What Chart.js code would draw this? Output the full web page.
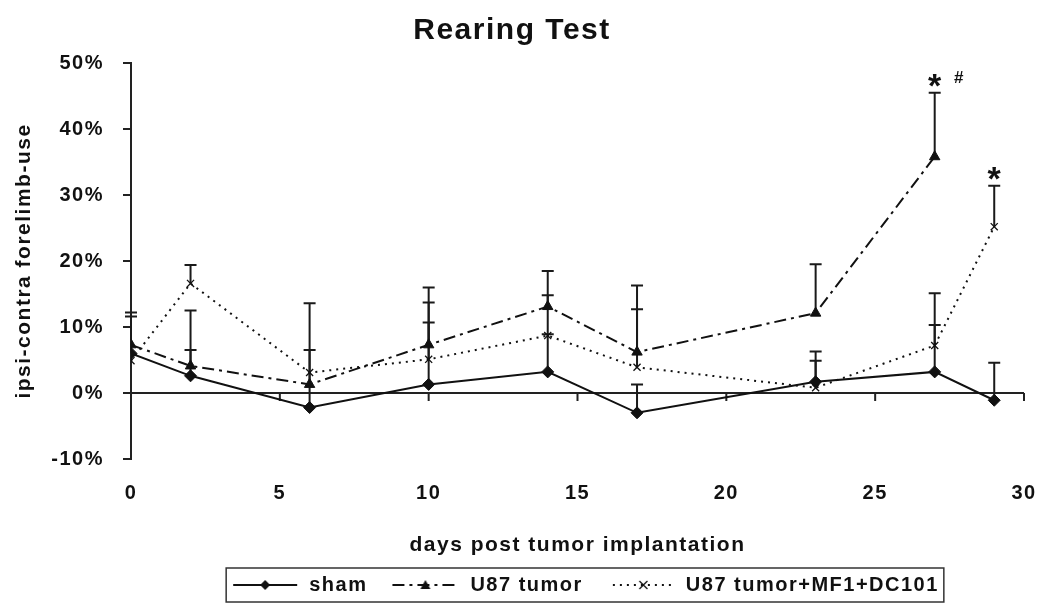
<!DOCTYPE html>
<html lang="en">
<head>
    <meta charset="UTF-8">
    <title>Rearing Test</title>
    <script src="https://cdn.jsdelivr.net/npm/chart.js"></script>
    <style>
        body { margin: 0; background: #fff; }
        #wrap { width: 1039px; height: 608px; position: relative; }
    </style>
</head>
<body>
    <div id="wrap"><canvas id="chart"></canvas></div>
    <script>
        // days after implantation
        const days = [0, 2, 6, 10, 14, 17, 23, 27, 29];

        // mean values (%) and upper error (%)
        const sham = [6.0, 2.6, -2.2, 1.3, 3.2, -3.0, 1.7, 3.2, -1.1];
        const shamErr = [5.6, 3.9, 8.7, 12.4, 5.7, 4.3, 3.2, 11.9, 5.7];

        const u87 = [7.3, 4.1, 1.3, 7.3, 13.1, 6.2, 12.1, 35.8, null];
        const u87Err = [4.9, 8.4, 12.3, 8.7, 5.4, 10.1, 7.4, 9.7, null];

        const combo = [4.9, 16.6, 3.1, 5.1, 8.7, 3.9, 0.8, 7.2, 25.2];
        const comboErr = [null, 2.8, null, 5.6, 6.1, 8.8, 5.5, 3.1, 6.2];

        const seriesNames = ['sham', 'U87 tumor', 'U87 tumor+MF1+DC101'];
        const yRange = [-10, 50];
        const xRange = [0, 30];

        // significance marks: series index, day, text
        const marks = [
            { series: 1, day: 27, star: '*', hash: '#' },
            { series: 2, day: 29, star: '*', hash: '' }
        ];

        const FONT = "'Liberation Sans', Arial, sans-serif";
        const INK = '#111';
        const SPACING = '1.5px';

        const dashes = [[], [12, 5, 3, 5], [2, 5]];
        const styles = ['rectRot', 'triangle', 'crossRot'];

        function drawMarker(g, kind, cx, cy) {
            g.setLineDash([]);
            g.fillStyle = INK;
            g.strokeStyle = INK;
            g.beginPath();
            if (kind === 'rectRot') {
                g.moveTo(cx, cy - 5); g.lineTo(cx + 5, cy); g.lineTo(cx, cy + 5); g.lineTo(cx - 5, cy);
                g.closePath(); g.fill();
            } else if (kind === 'triangle') {
                g.moveTo(cx, cy - 5); g.lineTo(cx + 5, cy + 4); g.lineTo(cx - 5, cy + 4);
                g.closePath(); g.fill();
            } else {
                g.lineWidth = 1.3;
                g.moveTo(cx - 4, cy - 4); g.lineTo(cx + 4, cy + 4);
                g.moveTo(cx + 4, cy - 4); g.lineTo(cx - 4, cy + 4);
                g.stroke();
            }
        }

        // legend sample: line style + marker, right-aligned in a fixed box
        const SAMPLE_W = 83;
        const sampleLen = [64, 66, 61];
        function sample(i) {
            const c = document.createElement('canvas');
            c.width = SAMPLE_W; c.height = 14;
            const g = c.getContext('2d');
            const x1 = SAMPLE_W - 2, x0 = x1 - sampleLen[i];
            g.strokeStyle = INK;
            g.lineWidth = 2;
            g.setLineDash(dashes[i]);
            g.beginPath();
            g.moveTo(x0, 7); g.lineTo(x1, 7);
            g.stroke();
            drawMarker(g, styles[i], (x0 + x1) / 2, 7);
            return c;
        }

        const errors = [shamErr, u87Err, comboErr];
        const values = [sham, u87, combo];

        function toPoints(arr) {
            return days.map((d, i) => ({ x: d, y: arr[i] }));
        }

        const spacing = {
            id: 'spacing',
            beforeLayout(chart) { chart.ctx.letterSpacing = SPACING; },
            beforeDraw(chart) { chart.ctx.letterSpacing = SPACING; }
        };

        const zeroAxis = {
            id: 'zeroAxis',
            beforeDatasetsDraw(chart) {
                const { ctx, chartArea, scales: { x, y } } = chart;
                const y0 = y.getPixelForValue(0);
                ctx.save();
                ctx.strokeStyle = '#222';
                ctx.lineWidth = 2;
                ctx.beginPath();
                ctx.moveTo(chartArea.left, y0);
                ctx.lineTo(chartArea.right, y0);
                x.ticks.forEach(t => {
                    if (t.value === xRange[0]) return;
                    const px = x.getPixelForValue(t.value);
                    ctx.moveTo(px, y0);
                    ctx.lineTo(px, y0 + 8);
                });
                ctx.stroke();
                ctx.restore();
            }
        };

        const errorBars = {
            id: 'errorBars',
            beforeDatasetsDraw(chart) {
                const { ctx, scales: { x, y } } = chart;
                ctx.save();
                ctx.strokeStyle = '#1a1a1a';
                ctx.lineWidth = 2;
                values.forEach((arr, s) => {
                    arr.forEach((v, j) => {
                        const e = errors[s][j];
                        if (v == null || e == null) return;
                        const px = x.getPixelForValue(days[j]);
                        const p0 = y.getPixelForValue(v);
                        const p1 = y.getPixelForValue(v + e);
                        ctx.beginPath();
                        ctx.moveTo(px, p0); ctx.lineTo(px, p1);
                        ctx.moveTo(px - 6, p1); ctx.lineTo(px + 6, p1);
                        ctx.stroke();
                    });
                });
                ctx.restore();
            }
        };

        const sigMarks = {
            id: 'sigMarks',
            afterDatasetsDraw(chart) {
                const { ctx, scales: { x, y } } = chart;
                ctx.save();
                ctx.fillStyle = INK;
                ctx.textAlign = 'center';
                ctx.textBaseline = 'alphabetic';
                ctx.letterSpacing = '0px';
                marks.forEach(m => {
                    const j = days.indexOf(m.day);
                    const top = values[m.series][j] + errors[m.series][j];
                    const px = x.getPixelForValue(m.day);
                    const py = y.getPixelForValue(top);
                    ctx.font = 'bold 34px ' + FONT;
                    const mt = ctx.measureText(m.star);
                    const cy = py - 12;
                    ctx.fillText(m.star, px, cy + (mt.actualBoundingBoxAscent - mt.actualBoundingBoxDescent) / 2);
                    if (m.hash) {
                        ctx.font = 'bold 17px ' + FONT;
                        ctx.fillText(m.hash, px + 24, cy + 2);
                    }
                });
                ctx.restore();
            }
        };

        const legendBox = {
            id: 'legendBox',
            afterDraw(chart) {
                const lg = chart.legend;
                if (!lg || !lg.legendHitBoxes.length) return;
                const hb = lg.legendHitBoxes;
                const first = hb[0], last = hb[hb.length - 1];
                const left = first.left + (SAMPLE_W - 2 - sampleLen[0]) - 7;
                const right = last.left + last.width + 5;
                const top = first.top - 7;
                const bottom = first.top + first.height + 7;
                const ctx = chart.ctx;
                ctx.save();
                ctx.strokeStyle = '#333';
                ctx.lineWidth = 1.5;
                ctx.strokeRect(left, top, right - left, bottom - top);
                ctx.restore();
            }
        };

        new Chart(document.getElementById('chart'), {
            type: 'line',
            data: {
                datasets: values.map((arr, i) => ({
                    label: seriesNames[i],
                    data: toPoints(arr),
                    borderColor: INK,
                    backgroundColor: INK,
                    borderWidth: 2,
                    borderDash: dashes[i],
                    pointStyle: styles[i],
                    pointRadius: i === 2 ? 5 : 6,
                    pointBorderWidth: i === 2 ? 1.3 : 1,
                    pointBackgroundColor: INK,
                    pointBorderColor: INK,
                    tension: 0,
                    fill: false
                }))
            },
            options: {
                responsive: true,
                maintainAspectRatio: false,
                animation: false,
                layout: { padding: { left: 0, right: 15, top: 0, bottom: 3 } },
                scales: {
                    x: {
                        type: 'linear',
                        min: xRange[0],
                        max: xRange[1],
                        border: { display: false },
                        grid: { display: true, drawOnChartArea: false, drawTicks: true, tickLength: 22, color: 'rgba(0,0,0,0)' },
                        ticks: {
                            stepSize: 5,
                            padding: 0,
                            color: INK,
                            font: { family: FONT, size: 20, weight: 'bold' }
                        },
                        title: {
                            display: true,
                            text: 'days post tumor implantation',
                            color: INK,
                            font: { family: FONT, size: 21, weight: 'bold' },
                            padding: { top: 0, bottom: 7 }
                        },
                        afterFit(scale) { scale.height = 106; }
                    },
                    y: {
                        min: yRange[0],
                        max: yRange[1],
                        border: { display: true, color: '#222', width: 2 },
                        grid: { drawOnChartArea: false, drawTicks: true, tickLength: 8, color: '#222', lineWidth: 2 },
                        ticks: {
                            stepSize: 10,
                            padding: 19,
                            color: INK,
                            font: { family: FONT, size: 20, weight: 'bold' },
                            callback: v => v + '%'
                        },
                        title: {
                            display: true,
                            text: 'ipsi-contra forelimb-use',
                            color: INK,
                            font: { family: FONT, size: 21, weight: 'bold' },
                            padding: { top: 12, bottom: 0 }
                        },
                        afterFit(scale) { scale.width = 131; }
                    }
                },
                plugins: {
                    title: {
                        display: true,
                        text: 'Rearing Test',
                        color: INK,
                        font: { family: FONT, size: 30, weight: 'bold' },
                        padding: { top: 13, bottom: 14 }
                    },
                    legend: {
                        position: 'bottom',
                        fullSize: false,
                        labels: {
                            usePointStyle: true,
                            pointStyleWidth: SAMPLE_W,
                            boxHeight: 14,
                            padding: 10,
                            color: INK,
                            font: { family: FONT, size: 20, weight: 'bold' },
                            generateLabels: () => seriesNames.map((name, i) => ({
                                text: name,
                                pointStyle: sample(i),
                                fillStyle: INK,
                                strokeStyle: INK,
                                lineWidth: 0,
                                fontColor: INK,
                                datasetIndex: i,
                                hidden: false
                            }))
                        }
                    },
                    tooltip: { enabled: false }
                }
            },
            plugins: [spacing, zeroAxis, errorBars, sigMarks, legendBox]
        });
    </script>
</body>
</html>
